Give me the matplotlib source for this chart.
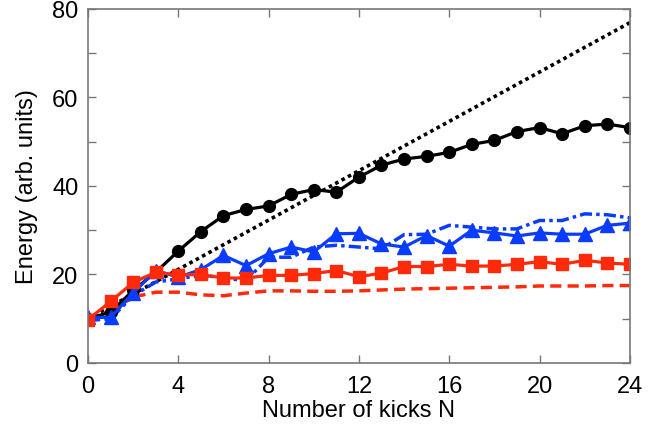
import numpy as np
import matplotlib
matplotlib.use('Agg')
import matplotlib.pyplot as plt

plt.rcParams['font.family'] = ['Liberation Sans', 'DejaVu Sans']

# 킥 횟수
kicks = list(range(25))

# 검은 원 (solid)
black_circ = [10.0, 11.5, 16.4, 20.5, 25.3, 29.7, 33.3, 34.7, 35.5, 38.1, 39.2, 38.6, 42.0,
              44.7, 46.1, 46.7, 47.6, 49.4, 50.3, 52.3, 53.2, 51.8, 53.6, 54.0, 53.2]

# 검은 점선 (선형)
dot_x = [0, 24]
dot_y = [10.0, 76.9]

# 빨간 사각형 (solid)
red_sq = [9.8, 13.9, 18.2, 20.5, 19.9, 20.0, 19.2, 19.2, 19.8, 19.8, 20.2, 20.9, 19.5,
          20.3, 21.8, 21.8, 22.3, 21.9, 21.9, 22.3, 22.9, 22.3, 23.2, 22.6, 22.3]

# 빨간 파선
red_dash = [9.8, 11.8, 14.9, 16.0, 16.0, 15.4, 15.2, 15.8, 16.3, 16.3, 16.2, 16.2, 16.3,
            16.5, 16.7, 16.8, 16.9, 17.0, 17.1, 17.2, 17.4, 17.4, 17.4, 17.5, 17.5]

# 파란 삼각형 (solid)
blue_tri = [10.3, 10.3, 15.8, 20.9, 19.4, 21.1, 24.3, 22.0, 24.7, 26.2, 25.1, 29.2, 29.3,
            26.9, 26.2, 28.8, 26.4, 30.0, 29.4, 28.7, 29.4, 29.1, 29.1, 31.1, 31.6]

# 파란 일점쇄선
blue_dd = [9.6, 10.0, 15.2, 18.3, 19.0, 19.9, 19.2, 18.6, 23.9, 23.9, 26.2, 26.6, 26.2,
           25.8, 29.0, 29.1, 31.1, 30.7, 30.3, 30.3, 32.2, 32.2, 33.7, 33.5, 32.8]

blue = '#0a3cff'
red = '#ff2a0a'

fig = plt.figure(figsize=(6.54, 4.31), dpi=100)
ax = fig.add_axes([0.1346, 0.1555, 0.8284, 0.8213])

ax.plot(dot_x, dot_y, color='black', linestyle=(0, (1, 1)), linewidth=2.6)
ax.plot(kicks, red_dash, color=red, linestyle=(0, (3.2, 1.8)), linewidth=2.5)
ax.plot(kicks, blue_dd, color=blue, linestyle=(0, (3.5, 1.2, 1, 1.2)), linewidth=2.5)
ax.plot(kicks, black_circ, color='black', marker='o', markersize=8.5, linewidth=2.3)
ax.plot(kicks, blue_tri, color=blue, marker='^', markersize=9.5, linewidth=2.3)
ax.plot(kicks, red_sq, color=red, marker='s', markersize=8, linewidth=2.3)

ax.set_xlim(0, 24)
ax.set_ylim(0, 80)
ax.set_xticks(range(0, 25, 4))
ax.set_yticks(range(0, 81, 20))
ax.set_yticks(range(10, 80, 20), minor=True)
ax.tick_params(which='both', direction='in', top=True, right=True, labelsize=17,
               color='#777777', length=6, width=1)
ax.tick_params(axis='x', pad=9)
ax.tick_params(axis='y', pad=7)
for s in ax.spines.values():
    s.set_color('#777777')
    s.set_linewidth(1.2)

ax.set_xlabel('Number of kicks N', fontsize=17, labelpad=1)
ax.set_ylabel('Energy (arb. units)', fontsize=17, labelpad=10)

fig.savefig('out.png', dpi=100)
